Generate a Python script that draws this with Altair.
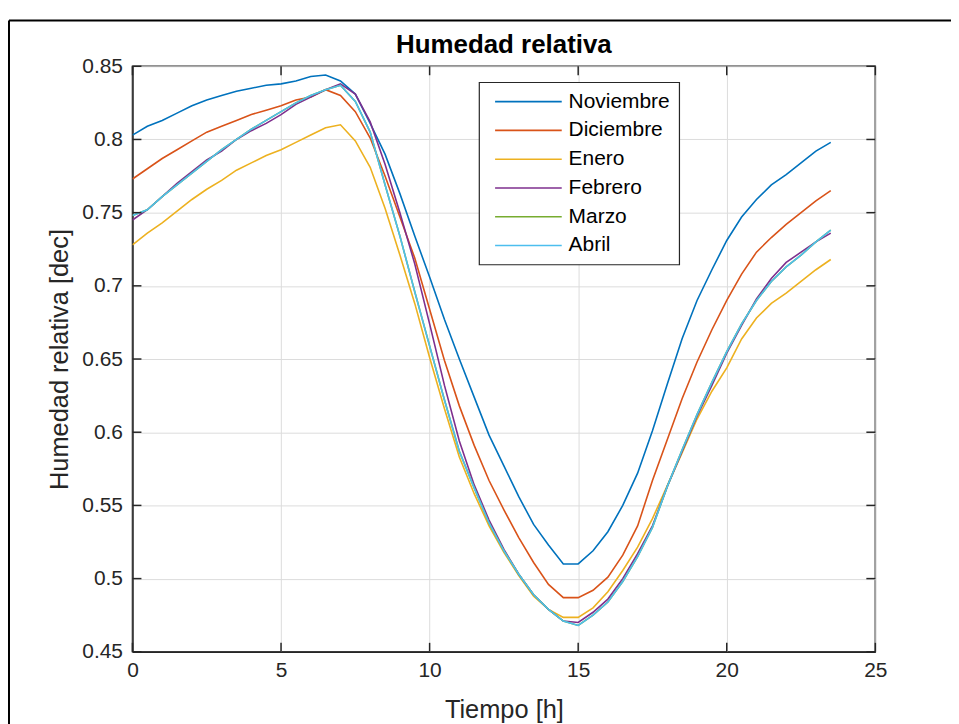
import altair as alt
import pandas as pd

hours = [0.0, 0.5, 1.0, 1.5, 2.0, 2.5, 3.0, 3.5, 4.0, 4.5, 5.0, 5.5,
         6.0, 6.5, 7.0, 7.5, 8.0, 8.5, 9.0, 9.5, 10.0, 10.5, 11.0, 11.5,
         12.0, 12.5, 13.0, 13.5, 14.0, 14.5, 15.0, 15.5, 16.0, 16.5, 17.0, 17.5,
         18.0, 18.5, 19.0, 19.5, 20.0, 20.5, 21.0, 21.5, 22.0, 22.5, 23.0, 23.5]

noviembre = [0.803, 0.809, 0.813, 0.818, 0.823, 0.827, 0.830, 0.833, 0.835, 0.837, 0.838, 0.840,
             0.843, 0.844, 0.840, 0.831, 0.811, 0.790, 0.763, 0.734, 0.706, 0.677, 0.650, 0.624,
             0.598, 0.577, 0.556, 0.537, 0.523, 0.510, 0.510, 0.519, 0.532, 0.550, 0.572, 0.601,
             0.633, 0.664, 0.690, 0.711, 0.731, 0.747, 0.759, 0.769, 0.776, 0.784, 0.792, 0.798]

diciembre = [0.773, 0.780, 0.787, 0.793, 0.799, 0.805, 0.809, 0.813, 0.817, 0.820, 0.823, 0.827,
             0.829, 0.834, 0.830, 0.819, 0.801, 0.775, 0.747, 0.719, 0.684, 0.649, 0.618, 0.591,
             0.567, 0.547, 0.528, 0.511, 0.496, 0.487, 0.487, 0.492, 0.501, 0.516, 0.536, 0.567,
             0.595, 0.623, 0.648, 0.670, 0.690, 0.708, 0.723, 0.733, 0.742, 0.750, 0.758, 0.765]

enero = [0.728, 0.736, 0.743, 0.751, 0.759, 0.766, 0.772, 0.779, 0.784, 0.789, 0.793, 0.798,
         0.803, 0.808, 0.810, 0.799, 0.781, 0.753, 0.721, 0.688, 0.651, 0.616, 0.583, 0.558,
         0.536, 0.518, 0.502, 0.488, 0.479, 0.4735, 0.4735, 0.480, 0.491, 0.5055, 0.5215, 0.541,
         0.5635, 0.586, 0.609, 0.628, 0.644, 0.6637, 0.678, 0.688, 0.695, 0.703, 0.711, 0.718]

febrero = [0.745, 0.752, 0.761, 0.770, 0.778, 0.786, 0.792, 0.800, 0.806, 0.811, 0.817, 0.824,
           0.829, 0.834, 0.838, 0.831, 0.812, 0.783, 0.750, 0.715, 0.674, 0.632, 0.594, 0.564,
           0.540, 0.520, 0.503, 0.489, 0.479, 0.471, 0.470, 0.477, 0.486, 0.500, 0.517, 0.536,
           0.563, 0.587, 0.611, 0.632, 0.654, 0.673, 0.691, 0.705, 0.716, 0.723, 0.730, 0.736]

marzo = [0.748, 0.752, 0.761, 0.769, 0.777, 0.785, 0.793, 0.800, 0.807, 0.813, 0.819, 0.825,
         0.830, 0.834, 0.837, 0.826, 0.805, 0.769, 0.734, 0.696, 0.659, 0.622, 0.587, 0.562,
         0.538, 0.519, 0.503, 0.489, 0.479, 0.471, 0.468, 0.475, 0.484, 0.498, 0.515, 0.535,
         0.563, 0.588, 0.612, 0.634, 0.655, 0.674, 0.690, 0.703, 0.713, 0.721, 0.730, 0.738]

abril = [0.748, 0.752, 0.761, 0.769, 0.777, 0.785, 0.793, 0.800, 0.807, 0.813, 0.819, 0.825,
         0.830, 0.834, 0.837, 0.826, 0.805, 0.769, 0.734, 0.696, 0.659, 0.622, 0.587, 0.562,
         0.538, 0.519, 0.503, 0.489, 0.479, 0.471, 0.468, 0.475, 0.484, 0.498, 0.515, 0.535,
         0.563, 0.588, 0.612, 0.634, 0.655, 0.674, 0.690, 0.703, 0.713, 0.721, 0.730, 0.738]

months = ["Noviembre", "Diciembre", "Enero", "Febrero", "Marzo", "Abril"]
series = [noviembre, diciembre, enero, febrero, marzo, abril]
colors = ["#0072BD", "#D95319", "#EDB120", "#7E2F8E", "#77AC30", "#4DBEEE"]

x_ticks = [0, 5, 10, 15, 20, 25]
y_ticks = [0.45, 0.5, 0.55, 0.6, 0.65, 0.7, 0.75, 0.8, 0.85]

rows = []
for k, (m, vals) in enumerate(zip(months, series)):
    for h, v in zip(hours, vals):
        rows.append({"hora": h, "valor": v, "mes": m, "k": k})
df = pd.DataFrame(rows)

W, H = 746, 588
TOP = 57
FONT = "Liberation Sans"
AX = "#262626"
TICK = 9

xscale = alt.Scale(domain=[0, 25], nice=False, zero=False)
yscale = alt.Scale(domain=[0.45, 0.85], nice=False, zero=False)

lines = alt.Chart(df).mark_line(strokeWidth=1.6, clip=True).encode(
    x=alt.X("hora:Q", scale=xscale,
            axis=alt.Axis(values=x_ticks, title="Tiempo [h]", ticks=False, grid=True,
                          labelFlush=False, labelOverlap=False, labelPadding=8,
                          titlePadding=17)),
    y=alt.Y("valor:Q", scale=yscale,
            axis=alt.Axis(values=y_ticks, title="Humedad relativa [dec]", ticks=False,
                          grid=True, format=".2~f", labelFlush=False, labelOverlap=False,
                          labelPadding=10, titlePadding=9)),
    color=alt.Color("mes:N", scale=alt.Scale(domain=months, range=colors), sort=months,
                    legend=alt.Legend(title=None, orient="none", legendX=348, legendY=16,
                                      symbolType="M-0.4,0H7.6", symbolSize=280,
                                      symbolStrokeWidth=1.6, labelFontSize=21, labelFont=FONT,
                                      labelColor="#000", labelOffset=60, rowPadding=6.9,
                                      padding=9, fillColor="white", strokeColor=AX)),
    order=alt.Order("k:Q"),
)

xt = pd.DataFrame({"hora": x_ticks})
yt = pd.DataFrame({"valor": y_ticks})
tick_style = dict(color=AX, strokeWidth=1.5)

xb = alt.Chart(xt).mark_rule(**tick_style).encode(
    x=alt.X("hora:Q", scale=xscale), y=alt.value(H), y2=alt.value(H - TICK))
xtop = alt.Chart(xt).mark_rule(**tick_style).encode(
    x=alt.X("hora:Q", scale=xscale), y=alt.value(0), y2=alt.value(TICK))
yl = alt.Chart(yt).mark_rule(**tick_style).encode(
    y=alt.Y("valor:Q", scale=yscale), x=alt.value(0), x2=alt.value(TICK))
yr = alt.Chart(yt).mark_rule(**tick_style).encode(
    y=alt.Y("valor:Q", scale=yscale), x=alt.value(W - TICK), x2=alt.value(W))

frame_df = pd.DataFrame({"f": [0]})
frame_left = alt.Chart(frame_df).mark_rule(color="#000", strokeWidth=2).encode(
    x=alt.value(-124), y=alt.value(-46), y2=alt.value(670))
frame_top = alt.Chart(frame_df).mark_rule(color="#000", strokeWidth=2).encode(
    y=alt.value(-46), x=alt.value(-124), x2=alt.value(840))

chart = alt.layer(frame_left, frame_top, lines, xb, xtop, yl, yr).properties(
    width=W, height=H,
    title=alt.TitleParams("Humedad relativa", fontSize=26, fontWeight="bold", font=FONT,
                          color="#000", anchor="middle", offset=12, dy=51),
    autosize=alt.AutoSizeParams(type="none"),
    padding={"left": 125, "top": TOP, "right": 76, "bottom": 71},
).configure(background="white").configure_view(
    stroke=AX, strokeWidth=1.5
).configure_axis(
    labelFont=FONT, titleFont=FONT, labelFontSize=21, titleFontSize=25.5,
    titleFontWeight="normal", labelColor="#262626", titleColor="#262626",
    domainColor=AX, domainWidth=1.5, gridColor="#dcdcdc", gridWidth=1,
).configure_legend(strokeWidth=1.2)

chart.save("out.html", embed_options={"renderer": "svg", "actions": False})
